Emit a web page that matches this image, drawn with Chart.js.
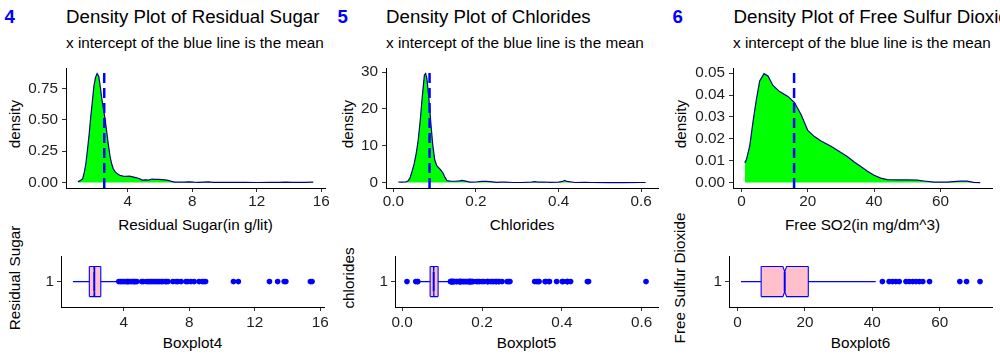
<!DOCTYPE html>
<html lang="en">
<head>
<meta charset="UTF-8">
<title>Density Plots and Boxplots</title>
<script src="https://cdn.jsdelivr.net/npm/chart.js"></script>
<style>
  html, body { margin: 0; padding: 0; background: #fff; }
  body {
    width: 1000px; height: 361px; position: relative; overflow: hidden;
    font-family: "Liberation Sans", Arial, sans-serif; color: #000;
  }
  canvas { position: absolute; }
  .txt { position: absolute; white-space: nowrap; line-height: 1; }
  .tag { font-size: 18.7px; font-weight: bold; color: #0000ff; top: 7.6px; }
  .title { font-size: 18.7px; top: 7.6px; }
  .sub { font-size: 15.3px; top: 35.4px; }
  .xlab { font-size: 15.3px; transform: translateX(-50%); }
  .ylab { font-size: 15.3px; transform: translate(-50%, -50%) rotate(-90deg); }
</style>
</head>
<body>

<!-- panel titles -->
<div class="txt tag" style="left:4.5px">4</div>
<div class="txt title" style="left:66px">Density Plot of Residual Sugar</div>
<div class="txt sub" style="left:66px">x intercept of the blue line is the mean</div>

<div class="txt tag" style="left:337.5px">5</div>
<div class="txt title" style="left:386px">Density Plot of Chlorides</div>
<div class="txt sub" style="left:386px">x intercept of the blue line is the mean</div>

<div class="txt tag" style="left:672.5px">6</div>
<div class="txt title" style="left:733.5px">Density Plot of Free Sulfur Dioxide</div>
<div class="txt sub" style="left:733px">x intercept of the blue line is the mean</div>

<!-- axis titles -->
<div class="txt ylab" style="left:14.5px; top:123.5px">density</div>
<div class="txt ylab" style="left:348px; top:123.5px">density</div>
<div class="txt ylab" style="left:681px; top:123.5px">density</div>
<div class="txt xlab" style="left:195.5px; top:217px">Residual Sugar(in g/lit)</div>
<div class="txt xlab" style="left:522px; top:217px">Chlorides</div>
<div class="txt xlab" style="left:862.5px; top:217px">Free SO2(in mg/dm^3)</div>

<div class="txt ylab" style="left:14.5px; top:278px">Residual Sugar</div>
<div class="txt ylab" style="left:348.5px; top:278px">chlorides</div>
<div class="txt ylab" style="left:680px; top:278px">Free Sulfur Dioxide</div>
<div class="txt xlab" style="left:192.5px; top:335.3px">Boxplot4</div>
<div class="txt xlab" style="left:526.5px; top:335.3px">Boxplot5</div>
<div class="txt xlab" style="left:860.5px; top:335.3px">Boxplot6</div>

<canvas id="c1"></canvas>
<canvas id="c2"></canvas>
<canvas id="c3"></canvas>
<canvas id="c4"></canvas>
<canvas id="c5"></canvas>
<canvas id="c6"></canvas>

<script>
// ---- density curves ----
const sugarX = [0.9, 1.0, 1.1, 1.2, 1.3, 1.4, 1.5, 1.6, 1.7, 1.8, 1.9, 2.0, 2.1, 2.2, 2.3, 2.4, 2.5, 2.6, 2.7, 2.8,
  2.9, 3.0, 3.1, 3.2, 3.3, 3.5, 3.7, 3.9, 4.1, 4.3, 4.5, 4.7, 4.9, 5.1, 5.3, 5.5, 5.7, 5.9, 6.1, 6.3,
  6.5, 6.7, 6.9, 7.2, 7.5, 7.8, 8.1, 8.4, 8.7, 9.0, 9.3, 9.6, 10, 10.5, 10.9, 11.3, 12, 12.9, 13.4, 13.8,
  14.2, 15, 15.4, 15.5];
const sugarY = [0.01, 0.012, 0.02, 0.03, 0.08, 0.15, 0.26, 0.38, 0.52, 0.64, 0.77, 0.84, 0.87, 0.85, 0.76, 0.66, 0.58, 0.5, 0.4, 0.3,
  0.21, 0.15, 0.11, 0.09, 0.075, 0.058, 0.052, 0.05, 0.052, 0.046, 0.04, 0.032, 0.02, 0.022, 0.02, 0.028, 0.026, 0.025, 0.024, 0.022,
  0.018, 0.01, 0.004, 0.003, 0.004, 0.006, 0.003, 0.002, 0.004, 0.005, 0.002, 0.001, 0.001, 0.0015, 0.002, 0.001, 0.0005, 0.001, 0.002, 0.004,
  0.002, 0.001, 0.004, 0.004];
const sugarMean = 2.54;

const chlorX = [0.012, 0.02, 0.03, 0.035, 0.04, 0.045, 0.05, 0.055, 0.06, 0.065, 0.07, 0.075, 0.078, 0.081, 0.085, 0.09,
  0.095, 0.1, 0.105, 0.11, 0.115, 0.12, 0.125, 0.13, 0.14, 0.15, 0.16, 0.167, 0.175, 0.185, 0.2, 0.215, 0.225,
  0.24, 0.25, 0.26, 0.27, 0.29, 0.31, 0.335, 0.342, 0.35, 0.365, 0.38, 0.4, 0.41, 0.415, 0.42, 0.44, 0.465,
  0.48, 0.52, 0.56, 0.6, 0.611];
const chlorY = [0.15, 0.1, 0.15, 0.4, 1.2, 3.0, 5.0, 7.8, 11.5, 17, 23.5, 29.2, 29.6, 28.3, 24, 17,
  10.5, 6.2, 4.6, 4.0, 3.4, 2.6, 1.4, 0.5, 0.35, 0.35, 0.45, 0.6, 0.4, 0.1, 0.15, 0.3, 0.3,
  0.2, 0.05, 0.1, 0.1, 0.02, 0.02, 0.1, 0.25, 0.1, 0.15, 0.05, 0.1, 0.3, 0.6, 0.3, 0.02, 0.08,
  0.01, 0.0, 0.0, 0.01, 0.02];
const chlorMean = 0.0875;

const so2X = [1, 1.5, 2.5, 3.5, 4.5, 5.5, 6.8, 8, 9.5, 11.5, 14, 16, 18, 20, 22, 24, 27, 30, 32, 34,
  36, 38, 40, 42, 44, 47, 50, 53, 55, 58, 62, 66, 68, 70, 72];
const so2Y = [0.009, 0.0105, 0.0168, 0.028, 0.038, 0.0465, 0.0498, 0.0487, 0.0444, 0.0416, 0.0394, 0.0366, 0.031, 0.0238, 0.021, 0.019, 0.0166, 0.0137, 0.0118, 0.0094,
  0.0073, 0.0052, 0.0033, 0.002, 0.0013, 0.0012, 0.0012, 0.0011, 0.0007, 0.0002, 0.0002, 0.0006, 0.0006, 0.0001, 0.0];
const so2Mean = 15.87;

// ---- boxplots: [whisker low, q1, median, q3, whisker high] ----
const nObs = 1599;
const sugarBox = [0.9, 1.9, 2.2, 2.6, 3.6];
const sugarOut = [3.7, 3.8, 3.9, 4.0, 4.1, 4.2, 4.25, 4.3, 4.4, 4.5, 4.6, 4.65, 4.7, 4.8, 5.1, 5.2, 5.4, 5.5,
  5.6, 5.7, 5.8, 5.9, 6.0, 6.1, 6.2, 6.3, 6.4, 6.55, 6.6, 6.7, 7.0, 7.2, 7.3, 7.5, 7.8, 7.9, 8.1, 8.3,
  8.6, 8.8, 8.9, 9.0, 10.7, 11.0, 12.9, 13.4, 13.8, 13.9, 15.4, 15.5];
const chlorBox = [0.041, 0.07, 0.079, 0.09, 0.119];
const chlorOut = [0.012, 0.034, 0.038, 0.039, 0.121, 0.122, 0.123, 0.124, 0.125, 0.126, 0.127, 0.128, 0.13,
  0.132, 0.136, 0.137, 0.142, 0.143, 0.145, 0.146, 0.147, 0.148, 0.152, 0.153, 0.157, 0.159, 0.161, 0.165,
  0.166, 0.168, 0.169, 0.17, 0.171, 0.172, 0.174, 0.176, 0.178, 0.186, 0.19, 0.194, 0.2, 0.205, 0.213, 0.214,
  0.216, 0.222, 0.226, 0.23, 0.235, 0.236, 0.241, 0.243, 0.25, 0.263, 0.267, 0.27, 0.332, 0.337, 0.341,
  0.343, 0.358, 0.36, 0.368, 0.369, 0.387, 0.401, 0.403, 0.413, 0.414, 0.415, 0.422, 0.464, 0.467, 0.611];
const so2Box = [1, 7, 14, 21, 41];
const so2Out = [43, 45, 46, 47, 48, 50, 51, 52, 53, 54, 55, 57, 66, 68, 72];

// ---- axis ticks ----
const sugarTicks = [4, 8, 12, 16];
const sugarLabels = ['4', '8', '12', '16'];
const chlorTicks = [0, 0.2, 0.4, 0.6];
const chlorLabels = ['0.0', '0.2', '0.4', '0.6'];
const so2Ticks = [0, 20, 40, 60];
const so2Labels = ['0', '20', '40', '60'];
const sugarDensTicks = [0, 0.25, 0.5, 0.75];
const sugarDensLabels = ['0.00', '0.25', '0.50', '0.75'];
const chlorDensTicks = [0, 10, 20, 30];
const chlorDensLabels = ['0', '10', '20', '30'];
const so2DensTicks = [0, 0.01, 0.02, 0.03, 0.04, 0.05];
const so2DensLabels = ['0.00', '0.01', '0.02', '0.03', '0.04', '0.05'];
const boxYTicks = [1];
const boxYLabels = ['1'];

// ---- styling ----
const BLUE = '#0000ff';
const NAVY = '#00008b';
const GREEN = '#00ff00';
const PINK = '#ffc0cb';
const TICK_COLOR = '#1e1e1e';
const BOX_HALF = 0.355;
const NOTCH = 0.12;

Chart.defaults.font.family = '"Liberation Sans", Arial, sans-serif';
Chart.defaults.font.size = 15.3;
Chart.defaults.color = TICK_COLOR;

function place(cv, g) {
  cv.width = g.R - g.L + g.yW + g.padR;
  cv.height = g.B - g.T + g.padT + g.xH;
  cv.style.left = (g.L - g.yW) + 'px';
  cv.style.top = (g.T - g.padT) + 'px';
}

function axis(dir, c, g) {
  return {
    type: 'linear', min: c.min, max: c.max,
    afterBuildTicks: s => { s.ticks = c.ticks.map(v => ({ value: v })); },
    afterFit: s => { if (dir === 'x') s.height = g.xH; else s.width = g.yW; },
    ticks: {
      autoSkip: false, maxRotation: 0, minRotation: 0, padding: c.pad, color: TICK_COLOR,
      callback: (v, i) => c.labels[i]
    },
    grid: { drawOnChartArea: false, drawTicks: true, tickLength: 4, color: '#333', lineWidth: 1 },
    border: { display: true, color: '#000', width: 1 }
  };
}

function options(g, xc, yc) {
  return {
    responsive: false, animation: false, events: [],
    layout: { padding: { left: 0, right: g.padR, top: g.padT, bottom: 0 } },
    plugins: { legend: { display: false }, tooltip: { enabled: false } },
    scales: { x: axis('x', xc, g), y: axis('y', yc, g) }
  };
}

function densityChart(id, g, xs, ys, mean, xc, yc) {
  const cv = document.getElementById(id);
  place(cv, g);
  new Chart(cv, {
    type: 'line',
    data: {
      datasets: [
        { // mean line
          data: [{ x: mean, y: yc.min }, { x: mean, y: yc.max }],
          borderColor: BLUE, borderWidth: 2.5, borderDash: [10, 5], pointRadius: 0, fill: false
        },
        {
          data: xs.map((x, i) => ({ x: x, y: ys[i] })),
          borderColor: NAVY, borderWidth: 1.2, backgroundColor: GREEN,
          pointRadius: 0, fill: 'origin', tension: 0
        }
      ]
    },
    options: options(g, xc, yc)
  });
}

function boxChart(id, g, stats, outliers, xc) {
  const cv = document.getElementById(id);
  place(cv, g);
  const [lo, q1, med, q3, hi] = stats;
  const nh = 1.58 * (q3 - q1) / Math.sqrt(nObs);
  const top = 1 + BOX_HALF, bot = 1 - BOX_HALF;
  const edge = (y, yn) => [{ x: q1, y: y }, { x: med - nh, y: y }, { x: med, y: yn }, { x: med + nh, y: y }, { x: q3, y: y }];
  const line = (pts, w) => ({ data: pts, borderColor: BLUE, borderWidth: w || 1.1, pointRadius: 0, fill: false });

  new Chart(cv, {
    type: 'line',
    data: {
      datasets: [
        {
          data: outliers.map(x => ({ x: x, y: 1 })), showLine: false,
          pointRadius: 2.8, pointBackgroundColor: BLUE, pointBorderColor: BLUE, pointBorderWidth: 0,
          backgroundColor: BLUE, borderColor: BLUE
        },
        line([{ x: med, y: top - NOTCH }, { x: med, y: bot + NOTCH }], 2),
        line([{ x: q1, y: bot }, { x: q1, y: top }]),
        line([{ x: q3, y: bot }, { x: q3, y: top }]),
        line([{ x: lo, y: 1 }, { x: q1, y: 1 }]),
        line([{ x: q3, y: 1 }, { x: hi, y: 1 }]),
        line(edge(bot, bot + NOTCH)),
        Object.assign(line(edge(top, top - NOTCH)), { fill: '-1', backgroundColor: PINK })
      ]
    },
    options: options(g, xc, { min: 0.4, max: 1.6, ticks: boxYTicks, labels: boxYLabels, pad: 3 })
  });
}

const row1 = { T: 59, B: 188, yW: 60, xH: 30, padR: 12, padT: 4 };
const row2 = { T: 248, B: 307, yW: 60, xH: 30, padR: 12, padT: 4 };

densityChart('c1', Object.assign({ L: 66, R: 325 }, row1), sugarX, sugarY, sugarMean,
  { min: 0.17, max: 16.23, ticks: sugarTicks, labels: sugarLabels, pad: 1 },
  { min: -0.0435, max: 0.9135, ticks: sugarDensTicks, labels: sugarDensLabels, pad: 4 });

densityChart('c2', Object.assign({ L: 386, R: 658 }, row1), chlorX, chlorY, chlorMean,
  { min: -0.018, max: 0.641, ticks: chlorTicks, labels: chlorLabels, pad: 1 },
  { min: -1.48, max: 31.08, ticks: chlorDensTicks, labels: chlorDensLabels, pad: 4 });

densityChart('c3', Object.assign({ L: 733, R: 992 }, row1), so2X, so2Y, so2Mean,
  { min: -2.55, max: 75.55, ticks: so2Ticks, labels: so2Labels, pad: 1 },
  { min: -0.0025, max: 0.0523, ticks: so2DensTicks, labels: so2DensLabels, pad: 4 });

boxChart('c4', Object.assign({ L: 61, R: 324 }, row2), sugarBox, sugarOut,
  { min: 0.17, max: 16.23, ticks: sugarTicks, labels: sugarLabels, pad: 3 });

boxChart('c5', Object.assign({ L: 395, R: 658 }, row2), chlorBox, chlorOut,
  { min: -0.018, max: 0.641, ticks: chlorTicks, labels: chlorLabels, pad: 3 });

boxChart('c6', Object.assign({ L: 729, R: 992 }, row2), so2Box, so2Out,
  { min: -2.55, max: 75.55, ticks: so2Ticks, labels: so2Labels, pad: 3 });
</script>
</body>
</html>
